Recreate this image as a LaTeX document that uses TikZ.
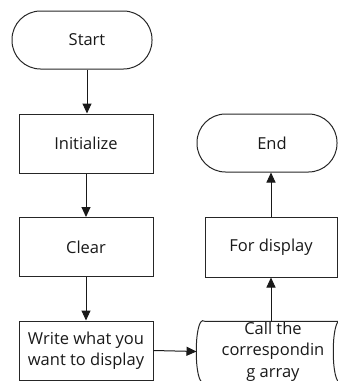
\documentclass[tikz,border=0pt]{standalone}
\usepackage{fontspec}
\setmainfont{Open Sans}
\usetikzlibrary{arrows.meta}
\begin{document}
\begin{tikzpicture}[x=1pt,y=-1pt,
  line width=1pt,
  box/.style={draw=black!85, line width=1pt, minimum width=134pt, minimum height=59pt, inner sep=0pt, align=center, font=\fontsize{16.5}{21.5}\selectfont, text=black!90},
  term/.style={draw=black!85, line width=1pt, rounded corners=28.5pt, minimum width=140pt, minimum height=58pt, inner sep=0pt},
  lbl/.style={inner sep=0pt, align=center, font=\fontsize{16.5}{21.5}\selectfont, text=black!90},
  arr/.style={draw=black!90, line width=1pt, -{Triangle[length=10pt,width=9pt]}}]
\useasboundingbox (0,0) rectangle (338,381);
% left column
\node[term] (start) at (82,40) {};
\node[lbl] (startlbl) at (87,40) {Start};
\node[box] (init) at (86,143.5) {Initialize};
\node[box] (clear) at (86,247) {Clear};
\node[box, minimum height=59pt] (write) at (86,350.5) {Write what you\\want to display};
% right column
\node[term] (endt) at (267,143) {};
\node[lbl] (endlbl) at (272,143) {End};
\node[box, minimum width=132pt, minimum height=60pt] (fd) at (271,247) {For display};
\node[lbl, minimum width=136pt, minimum height=59pt] (call) at (273,351.5) {Call the\\correspondin\\g array};
\draw[draw=black!85] (call.north west) -- (call.north east)
  .. controls ([xshift=-11pt,yshift=8pt]call.north east) and ([xshift=-11pt,yshift=-8pt]call.south east) .. (call.south east)
  -- (call.south west)
  .. controls ([xshift=-11pt,yshift=-8pt]call.south west) and ([xshift=-11pt,yshift=8pt]call.north west) .. (call.north west);
\coordinate (callW) at ([xshift=-8pt]call.west);
% connectors
\draw[arr] (startlbl |- start.south) -- (startlbl |- init.north);
\draw[arr] (init.south) -- (clear.north);
\draw[arr] (clear.south) -- (write.north);
\draw[arr] (write.east) -- (callW);
\draw[arr] (fd.south |- call.north) -- (fd.south);
\draw[arr] (fd.north) -- (fd.north |- endt.south);
\end{tikzpicture}
\end{document}
